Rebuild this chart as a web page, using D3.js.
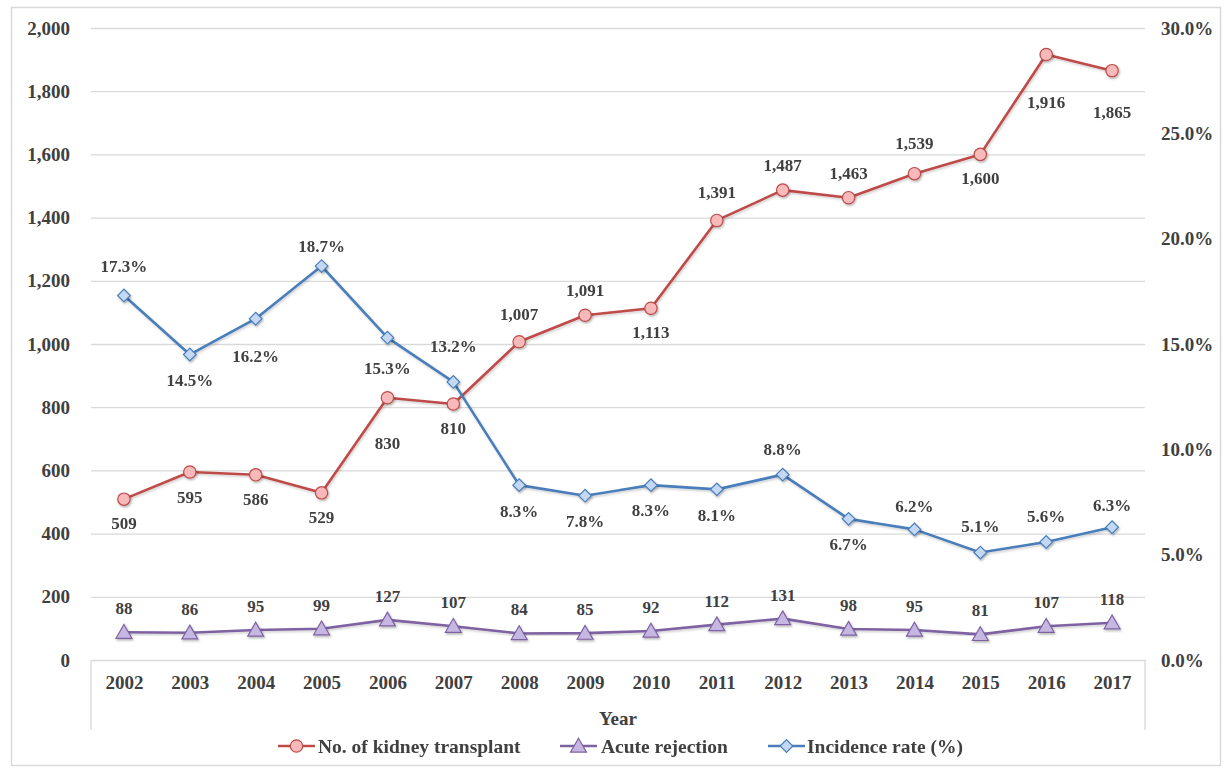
<!DOCTYPE html>
<html>
<head>
<meta charset="utf-8">
<script src="https://cdn.jsdelivr.net/npm/d3@7"></script>
<style>
  html, body { margin: 0; padding: 0; background: #fff; }
  svg { display: block; }
  text { font-family: "Liberation Serif", "Times New Roman", serif; font-weight: bold; fill: #404040; }
</style>
</head>
<body>
<svg id="chart" width="1231" height="770"></svg>
<script>
// ---- data ----
const years = ["2002","2003","2004","2005","2006","2007","2008","2009","2010","2011","2012","2013","2014","2015","2016","2017"];
const transplants = [509,595,586,529,830,810,1007,1091,1113,1391,1487,1463,1539,1600,1916,1865];
const acuteRejection = [88,86,95,99,127,107,84,85,92,112,131,98,95,81,107,118];
const incidenceRate = [17.3,14.5,16.2,18.7,15.3,13.2,8.3,7.8,8.3,8.1,8.8,6.7,6.2,5.1,5.6,6.3];
const leftTicks = [0,200,400,600,800,1000,1200,1400,1600,1800,2000];
const rightTicks = [0,5,10,15,20,25,30];
const seriesNames = ["No. of kidney transplant","Acute rejection","Incidence rate (%)"];

// label placement (layout only): vertical offset of each data label from its point, px
const transplantLabelDy = [24,25,24,24,45,24,-28,-25,24,-28,-25,-25,-31,24,48,41];
const acuteLabelDy = [-24,-24,-24,-24,-24,-24,-24,-24,-24,-24,-24,-24,-24,-24,-24,-24];
const incidenceLabelDy = [-29,26,37,-20,30,-36,26,25,25,26,-26,25,-23,-27,-26,-22];

// ---- layout ----
const svg = d3.select("#chart");
const L = 91, R = 1145, T = 28, B = 660;
const grid = "#d9d9d9";
const C = {
  red: {line:"#be4b48", fill:"#f7b9b9", stroke:"#be4b48"},
  purple: {line:"#7e62a1", fill:"#c6b7e2", stroke:"#7e62a1"},
  blue: {line:"#4a7ebb", fill:"#c4d8f4", stroke:"#4a7ebb"}
};

const defs = svg.append("defs");
const f = defs.append("filter").attr("id","sh").attr("x","-50%").attr("y","-50%").attr("width","200%").attr("height","200%");
f.append("feDropShadow").attr("dx",1).attr("dy",1.5).attr("stdDeviation",1).attr("flood-color","#000").attr("flood-opacity",0.3);
const fl = defs.append("filter").attr("id","shl").attr("x","-5%").attr("y","-5%").attr("width","110%").attr("height","110%");
fl.append("feDropShadow").attr("dx",1).attr("dy",1.5).attr("stdDeviation",1).attr("flood-color","#000").attr("flood-opacity",0.2);

// outer border
svg.append("rect").attr("x",11.5).attr("y",7.5).attr("width",1209).attr("height",758)
  .attr("fill","none").attr("stroke",grid).attr("stroke-width",1.5);

const x = d3.scalePoint().domain(years).range([L,R]).padding(0.5);
const yL = d3.scaleLinear().domain([0,2000]).range([B,T]);
const yR = d3.scaleLinear().domain([0,30]).range([B,T]);

// gridlines
const gGrid = svg.append("g").attr("transform",`translate(${L},0)`)
  .call(d3.axisLeft(yL).tickValues(leftTicks.slice(1)).tickSize(-(R-L)).tickFormat(""));
gGrid.select(".domain").remove();
gGrid.selectAll("line").attr("stroke",grid).attr("stroke-width",1.3);

// left axis
const gL = svg.append("g").attr("transform",`translate(${L},0)`)
  .call(d3.axisLeft(yL).tickValues(leftTicks).tickSize(0).tickPadding(21).tickFormat(d3.format(",")));
gL.select(".domain").remove();
gL.selectAll("text").style("font-size","19px").attr("fill","#404040");

// right axis
const gR = svg.append("g").attr("transform",`translate(${R},0)`)
  .call(d3.axisRight(yR).tickValues(rightTicks).tickSize(0).tickPadding(16).tickFormat(d => d.toFixed(1)+"%"));
gR.select(".domain").remove();
gR.selectAll("text").style("font-size","19px").attr("fill","#404040");

// bottom axis
const gB = svg.append("g").attr("transform",`translate(0,${B})`)
  .call(d3.axisBottom(x).tickSize(0).tickPadding(16));
gB.select(".domain").attr("stroke",grid).attr("stroke-width",1.3);
gB.selectAll("text").style("font-size","19px").attr("fill","#404040");
// category box sides
[L,R].forEach(xx => svg.append("line").attr("x1",xx).attr("x2",xx).attr("y1",B).attr("y2",730)
  .attr("stroke",grid).attr("stroke-width",1.3));

svg.append("text").attr("x",(L+R)/2).attr("y",718).attr("dy","0.35em").attr("text-anchor","middle")
  .style("font-size","19px").text("Year");

// series drawing
function drawSeries(vals, yScale, col, shape, labelDy, fmt) {
  const pts = vals.map((v,i) => [x(years[i]), yScale(v)]);
  svg.append("path").attr("d", d3.line()(pts)).attr("fill","none")
    .attr("stroke",col.line).attr("stroke-width",2.6).attr("stroke-linejoin","round").attr("filter","url(#shl)");
  const g = svg.append("g").attr("filter","url(#sh)");
  pts.forEach(p => drawMarker(g, p[0], p[1], shape, col));
  const lg = svg.append("g");
  vals.forEach((v,i) => {
    lg.append("text").attr("x",pts[i][0]).attr("y",pts[i][1]+labelDy[i]).attr("dy","0.35em")
      .attr("text-anchor","middle").style("font-size","17px").text(fmt(v));
  });
}
function drawMarker(g, cx, cy, shape, col) {
  let sym;
  if (shape === "circle") sym = d3.symbol(d3.symbolCircle, 120);
  else if (shape === "triangle") sym = d3.symbol(d3.symbolTriangle, 110);
  else sym = d3.symbol(d3.symbolDiamond2 || d3.symbolSquare, 90);
  const el = g.append("path").attr("d", sym()).attr("fill",col.fill).attr("stroke",col.stroke).attr("stroke-width",1.2);
  if (shape === "diamond") el.attr("transform",`translate(${cx},${cy}) rotate(45)`).attr("d", d3.symbol(d3.symbolSquare, 80)());
  else if (shape === "triangle") el.attr("transform",`translate(${cx},${cy+1.5})`);
  else el.attr("transform",`translate(${cx},${cy})`);
}

drawSeries(transplants, yL, C.red, "circle", transplantLabelDy, d3.format(","));
drawSeries(acuteRejection, yL, C.purple, "triangle", acuteLabelDy, d3.format(","));
drawSeries(incidenceRate, yR, C.blue, "diamond", incidenceLabelDy, d => d.toFixed(1)+"%");

// legend
const legendY = 746;
const legendItems = [
  {name: seriesNames[0], col: C.red, shape: "circle", x0: 278, tx: 318},
  {name: seriesNames[1], col: C.purple, shape: "triangle", x0: 560, tx: 601},
  {name: seriesNames[2], col: C.blue, shape: "diamond", x0: 768, tx: 807}
];
legendItems.forEach(it => {
  svg.append("line").attr("x1",it.x0).attr("x2",it.x0+37).attr("y1",legendY).attr("y2",legendY)
    .attr("stroke",it.col.line).attr("stroke-width",2.6);
  drawMarker(svg, it.x0+18.5, legendY, it.shape, it.col);
  svg.append("text").attr("x",it.tx).attr("y",legendY).attr("dy","0.35em").style("font-size","19.5px").text(it.name);
});
</script>
</body>
</html>
